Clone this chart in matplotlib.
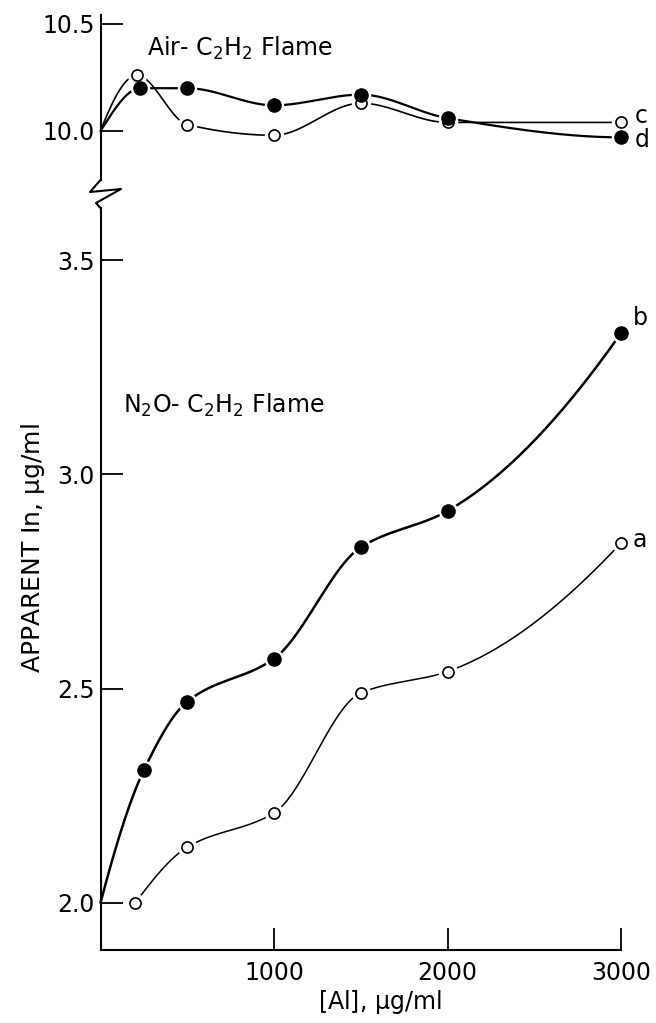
import numpy as np
import matplotlib
matplotlib.use("Agg")
import matplotlib.pyplot as plt
from matplotlib.lines import Line2D

plt.rcParams['font.family'] = ['DejaVu Sans']
plt.rcParams['mathtext.default'] = 'regular'

W, H = 656, 1023

# Air-C2H2 flame (top panel)
air_x = [0, 210, 500, 1000, 1500, 2000, 3000]
air_c = [10.0, 10.26, 10.03, 9.98, 10.13, 10.04, 10.04]   # open circles
air_x_d = [0, 230, 500, 1000, 1500, 2000, 3000]
air_d = [10.0, 10.20, 10.20, 10.12, 10.17, 10.06, 9.97]   # filled circles

# N2O-C2H2 flame (bottom panel)
n2o_x_a = [200, 500, 1000, 1500, 2000, 3000]
n2o_a = [2.0, 2.13, 2.21, 2.49, 2.54, 2.84]             # open circles
n2o_x_b = [0, 250, 500, 1000, 1500, 2000, 3000]
n2o_b = [2.0, 2.31, 2.47, 2.57, 2.83, 2.915, 3.33]       # filled circles

bottom_yticks = [2.0, 2.5, 3.0, 3.5]
top_yticks = [10.0, 10.5]
xticks = [1000, 2000, 3000]


def smooth(xs, ys, n=40):
    # monotone cubic (pchip) curve through the measured points, for drawing only
    x = np.asarray(xs, float)
    y = np.asarray(ys, float)
    h = np.diff(x)
    d = np.diff(y) / h
    m = np.zeros_like(x)
    for k in range(1, len(x) - 1):
        if d[k - 1] * d[k] > 0:
            w1 = 2 * h[k] + h[k - 1]
            w2 = h[k] + 2 * h[k - 1]
            m[k] = (w1 + w2) / (w1 / d[k - 1] + w2 / d[k])
    m[0] = ((2 * h[0] + h[1]) * d[0] - h[0] * d[1]) / (h[0] + h[1])
    if np.sign(m[0]) != np.sign(d[0]):
        m[0] = 0
    m[-1] = ((2 * h[-1] + h[-2]) * d[-1] - h[-1] * d[-2]) / (h[-1] + h[-2])
    if np.sign(m[-1]) != np.sign(d[-1]):
        m[-1] = 0
    ox, oy = [], []
    t = np.linspace(0, 1, n)
    for k in range(len(x) - 1):
        h00 = 2 * t ** 3 - 3 * t ** 2 + 1
        h10 = t ** 3 - 2 * t ** 2 + t
        h01 = -2 * t ** 3 + 3 * t ** 2
        h11 = t ** 3 - t ** 2
        ox.append(x[k] + t * h[k])
        oy.append(h00 * y[k] + h10 * h[k] * m[k] + h01 * y[k + 1] + h11 * h[k] * m[k + 1])
    return np.concatenate(ox), np.concatenate(oy)


fig = plt.figure(figsize=(W / 100, H / 100), dpi=100)

left, right = 100.5, 621
ax_b = fig.add_axes([left / W, (H - 950) / H, (right - left) / W, (950 - 208) / H])
ax_t = fig.add_axes([left / W, (H - 180) / H, (right - left) / W, (180 - 15) / H])

xlim = (0, 3000)
ylim_b = (1.890, 3.622)
ylim_t = (9.771, 10.542)

for ax, ylim in [(ax_b, ylim_b), (ax_t, ylim_t)]:
    ax.set_xlim(*xlim)
    ax.set_ylim(*ylim)
    ax.spines['top'].set_visible(False)
    ax.spines['right'].set_visible(False)
    for s in ax.spines.values():
        s.set_linewidth(1.5)
    ax.tick_params(direction='in', length=16, width=1.3, labelsize=17, pad=4)
    ax.patch.set_alpha(0)

ax_t.spines['bottom'].set_visible(False)
ax_t.set_xticks([])
ax_t.set_yticks(top_yticks)
ax_t.set_yticklabels(['10.0', '10.5'])

ax_b.set_yticks(bottom_yticks)
ax_b.set_yticklabels(['2.0', '2.5', '3.0', '3.5'])
ax_b.set_xticks(xticks)
ax_b.set_xticklabels([str(v) for v in xticks])
ax_b.tick_params(axis='x', pad=8)


def series(ax, xs, ys, filled, lw):
    sx, sy = smooth(xs, ys)
    ax.plot(sx, sy, color='black', lw=lw, solid_capstyle='round', clip_on=False, zorder=2)
    mx, my = (xs[1:], ys[1:]) if xs[0] == 0 else (xs, ys)
    ax.plot(mx, my, 'o', ms=13, color='white', mec='white', clip_on=False, zorder=3)
    if filled:
        ax.plot(mx, my, 'o', ms=9.5, color='black', mec='black', clip_on=False, zorder=4)
    else:
        ax.plot(mx, my, 'o', ms=8, mfc='white', mec='black', mew=1.2, clip_on=False, zorder=4)


series(ax_t, air_x, air_c, False, 1.2)
series(ax_t, air_x_d, air_d, True, 1.6)
series(ax_b, n2o_x_a, n2o_a, False, 1.1)
series(ax_b, n2o_x_b, n2o_b, True, 1.8)


def ftext(x, y, s, **kw):
    fig.text(x / W, 1 - y / H, s, **kw)


ftext(147, 48, 'Air- C$_2$H$_2$ Flame', fontsize=17, va='center', ha='left')
ftext(123, 405, 'N$_2$O- C$_2$H$_2$ Flame', fontsize=17, va='center', ha='left')
ftext(33, 548, 'APPARENT In, $\\mu$g/ml', fontsize=18, rotation=90, va='center', ha='center')
ftext(380, 1002, '[Al], $\\mu$g/ml', fontsize=17, va='center', ha='center')

ftext(633, 318, 'b', fontsize=17, va='center', ha='left')
ftext(633, 540, 'a', fontsize=17, va='center', ha='left')
ftext(635, 116, 'c', fontsize=17, va='center', ha='left')
ftext(635, 140, 'd', fontsize=17, va='center', ha='left')

# axis break zigzag
zx = np.array([100.5, 90, 121, 96, 100.5])
zy = np.array([180, 192, 189, 203, 208])
fig.add_artist(Line2D(zx / W, 1 - zy / H, color='black', lw=1.5, transform=fig.transFigure))

fig.savefig('out.png', dpi=100)
